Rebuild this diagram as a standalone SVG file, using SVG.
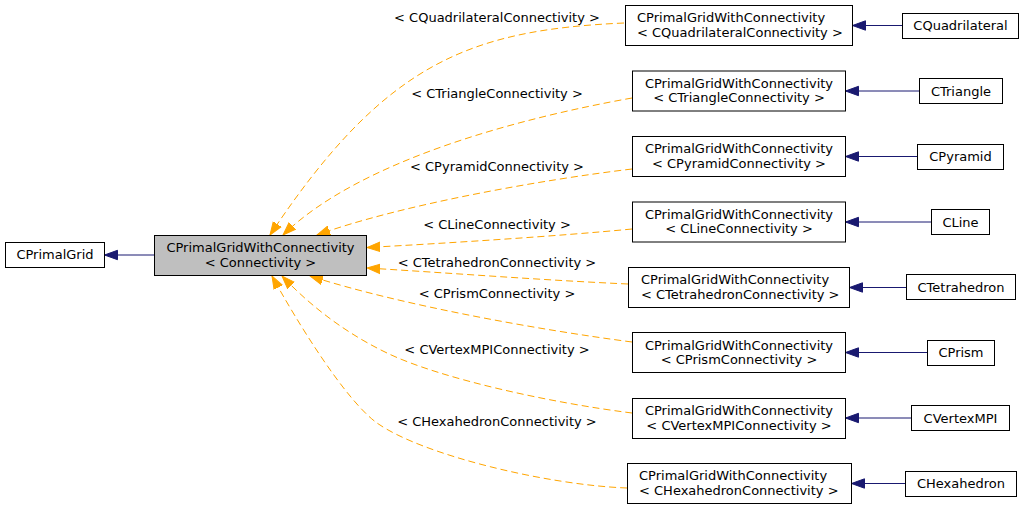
<svg xmlns="http://www.w3.org/2000/svg" width="1024" height="509" viewBox="0 0 1024 509">
<style>
text{font-family:"DejaVu Sans","Liberation Sans",sans-serif;font-size:13px;fill:#000}
.m{text-anchor:middle}
.s{text-anchor:start}
.box{fill:#fff;stroke:#000;stroke-width:1}
.cur{fill:#bfbfbf;stroke:#000;stroke-width:1}
.dep{fill:none;stroke:#ffa500;stroke-width:1;stroke-dasharray:7,4}
.inh{fill:none;stroke:#191970;stroke-width:1}
</style>
<defs>
<marker id="ao" markerUnits="userSpaceOnUse" markerWidth="14" markerHeight="12" viewBox="0 -6 14 12" refX="13" refY="0" orient="auto"><path d="M0,-4.7 L13,0 L0,4.7 z" fill="#ffa500" stroke="#ffa500"/></marker>
<marker id="ab" markerUnits="userSpaceOnUse" markerWidth="14" markerHeight="12" viewBox="0 -6 14 12" refX="13" refY="0" orient="auto"><path d="M0,-4.7 L13,0 L0,4.7 z" fill="#191970" stroke="#191970"/></marker>
</defs>
<rect width="1024" height="509" fill="#fff"/>
<g id="connectors">
<path class="inh" marker-end="url(#ab)" d="M154,255 L104.5,255"/>
<path class="inh" marker-end="url(#ab)" d="M902,25.5 L852.5,25.5"/>
<path class="inh" marker-end="url(#ab)" d="M919,91 L845.5,91"/>
<path class="inh" marker-end="url(#ab)" d="M917,156.5 L845.5,156.5"/>
<path class="inh" marker-end="url(#ab)" d="M931,222 L845.5,222"/>
<path class="inh" marker-end="url(#ab)" d="M906,287.5 L849.5,287.5"/>
<path class="inh" marker-end="url(#ab)" d="M927,352.5 L845.5,352.5"/>
<path class="inh" marker-end="url(#ab)" d="M911,418 L845.5,418"/>
<path class="inh" marker-end="url(#ab)" d="M905,483.5 L851.5,483.5"/>
<path class="dep" marker-end="url(#ao)" d="M624,23 C470,30 385,62 270,235"/>
<path class="dep" marker-end="url(#ao)" d="M632,98 C520,118 360,160 283,235"/>
<path class="dep" marker-end="url(#ao)" d="M632,169 C540,180 400,205 317,235"/>
<path class="dep" marker-end="url(#ao)" d="M632,229 C560,236 450,243 367,247.5"/>
<path class="dep" marker-end="url(#ao)" d="M628,284 C540,280 450,273 367,268"/>
<path class="dep" marker-end="url(#ao)" d="M632,342 C540,330 400,305 310,276"/>
<path class="dep" marker-end="url(#ao)" d="M632,413 C552,403 441,379 387,353 C337,329 303,298 282,276"/>
<path class="dep" marker-end="url(#ao)" d="M627,488 C547,485 422,455 377,423 C345,400 296,320 272,276"/>
<text class="m" x="497" y="22">&lt; CQuadrilateralConnectivity &gt;</text>
<text class="m" x="497" y="97.5">&lt; CTriangleConnectivity &gt;</text>
<text class="m" x="497" y="171">&lt; CPyramidConnectivity &gt;</text>
<text class="m" x="497" y="228.5">&lt; CLineConnectivity &gt;</text>
<text class="m" x="497" y="267">&lt; CTetrahedronConnectivity &gt;</text>
<text class="m" x="497" y="298">&lt; CPrismConnectivity &gt;</text>
<text class="m" x="497" y="354">&lt; CVertexMPIConnectivity &gt;</text>
<text class="m" x="497" y="426">&lt; CHexahedronConnectivity &gt;</text>
</g>
<g id="CPrimalGrid"><rect class="box" x="5.5" y="242.5" width="99" height="25"/><text class="m" x="55" y="259">CPrimalGrid</text></g>
<g id="CPrimalGridWithConnectivity"><rect class="cur" x="154.5" y="235.5" width="212" height="40"/><text class="m" x="260.5" y="252">CPrimalGridWithConnectivity</text><text class="m" x="260.5" y="266.5">&lt; Connectivity &gt;</text></g>
<g id="T_Quad"><rect class="box" x="625.5" y="5.5" width="227" height="40"/><text class="s" x="637" y="22">CPrimalGridWithConnectivity</text><text class="s" x="637" y="36.5">&lt; CQuadrilateralConnectivity &gt;</text></g>
<g id="T_Triangle"><rect class="box" x="632.5" y="71" width="213" height="40"/><text class="m" x="739" y="87.5">CPrimalGridWithConnectivity</text><text class="m" x="739" y="102">&lt; CTriangleConnectivity &gt;</text></g>
<g id="T_Pyramid"><rect class="box" x="632.5" y="136.5" width="213" height="40"/><text class="m" x="739" y="153">CPrimalGridWithConnectivity</text><text class="m" x="739" y="167.5">&lt; CPyramidConnectivity &gt;</text></g>
<g id="T_Line"><rect class="box" x="632.5" y="202" width="213" height="40"/><text class="m" x="739" y="218.5">CPrimalGridWithConnectivity</text><text class="m" x="739" y="233">&lt; CLineConnectivity &gt;</text></g>
<g id="T_Tetrahedron"><rect class="box" x="628.5" y="267.5" width="221" height="40"/><text class="s" x="641" y="284">CPrimalGridWithConnectivity</text><text class="s" x="641" y="298.5">&lt; CTetrahedronConnectivity &gt;</text></g>
<g id="T_Prism"><rect class="box" x="632.5" y="332.5" width="213" height="40"/><text class="m" x="739" y="349.5">CPrimalGridWithConnectivity</text><text class="m" x="739" y="364">&lt; CPrismConnectivity &gt;</text></g>
<g id="T_VertexMPI"><rect class="box" x="632.5" y="398.5" width="213" height="40"/><text class="m" x="739" y="415">CPrimalGridWithConnectivity</text><text class="m" x="739" y="429.5">&lt; CVertexMPIConnectivity &gt;</text></g>
<g id="T_Hexahedron"><rect class="box" x="627.5" y="463.5" width="224" height="40"/><text class="s" x="639" y="480">CPrimalGridWithConnectivity</text><text class="s" x="639" y="494.5">&lt; CHexahedronConnectivity &gt;</text></g>
<g id="CQuadrilateral"><rect class="box" x="902.5" y="13.5" width="116" height="25"/><text class="m" x="960.5" y="30">CQuadrilateral</text></g>
<g id="CTriangle"><rect class="box" x="919.5" y="78.5" width="83" height="25"/><text class="m" x="961" y="95.5">CTriangle</text></g>
<g id="CPyramid"><rect class="box" x="917.5" y="144.5" width="86" height="25"/><text class="m" x="960.5" y="161">CPyramid</text></g>
<g id="CLine"><rect class="box" x="931.5" y="209.5" width="58" height="25"/><text class="m" x="960.5" y="226.5">CLine</text></g>
<g id="CTetrahedron"><rect class="box" x="906.5" y="274.5" width="109" height="25"/><text class="m" x="961" y="291.5">CTetrahedron</text></g>
<g id="CPrism"><rect class="box" x="927.5" y="340.5" width="67" height="25"/><text class="m" x="961" y="357">CPrism</text></g>
<g id="CVertexMPI"><rect class="box" x="911.5" y="405.5" width="98" height="25"/><text class="m" x="960.5" y="422.5">CVertexMPI</text></g>
<g id="CHexahedron"><rect class="box" x="905.5" y="471.5" width="111" height="25"/><text class="m" x="961" y="488">CHexahedron</text></g>
</svg>
